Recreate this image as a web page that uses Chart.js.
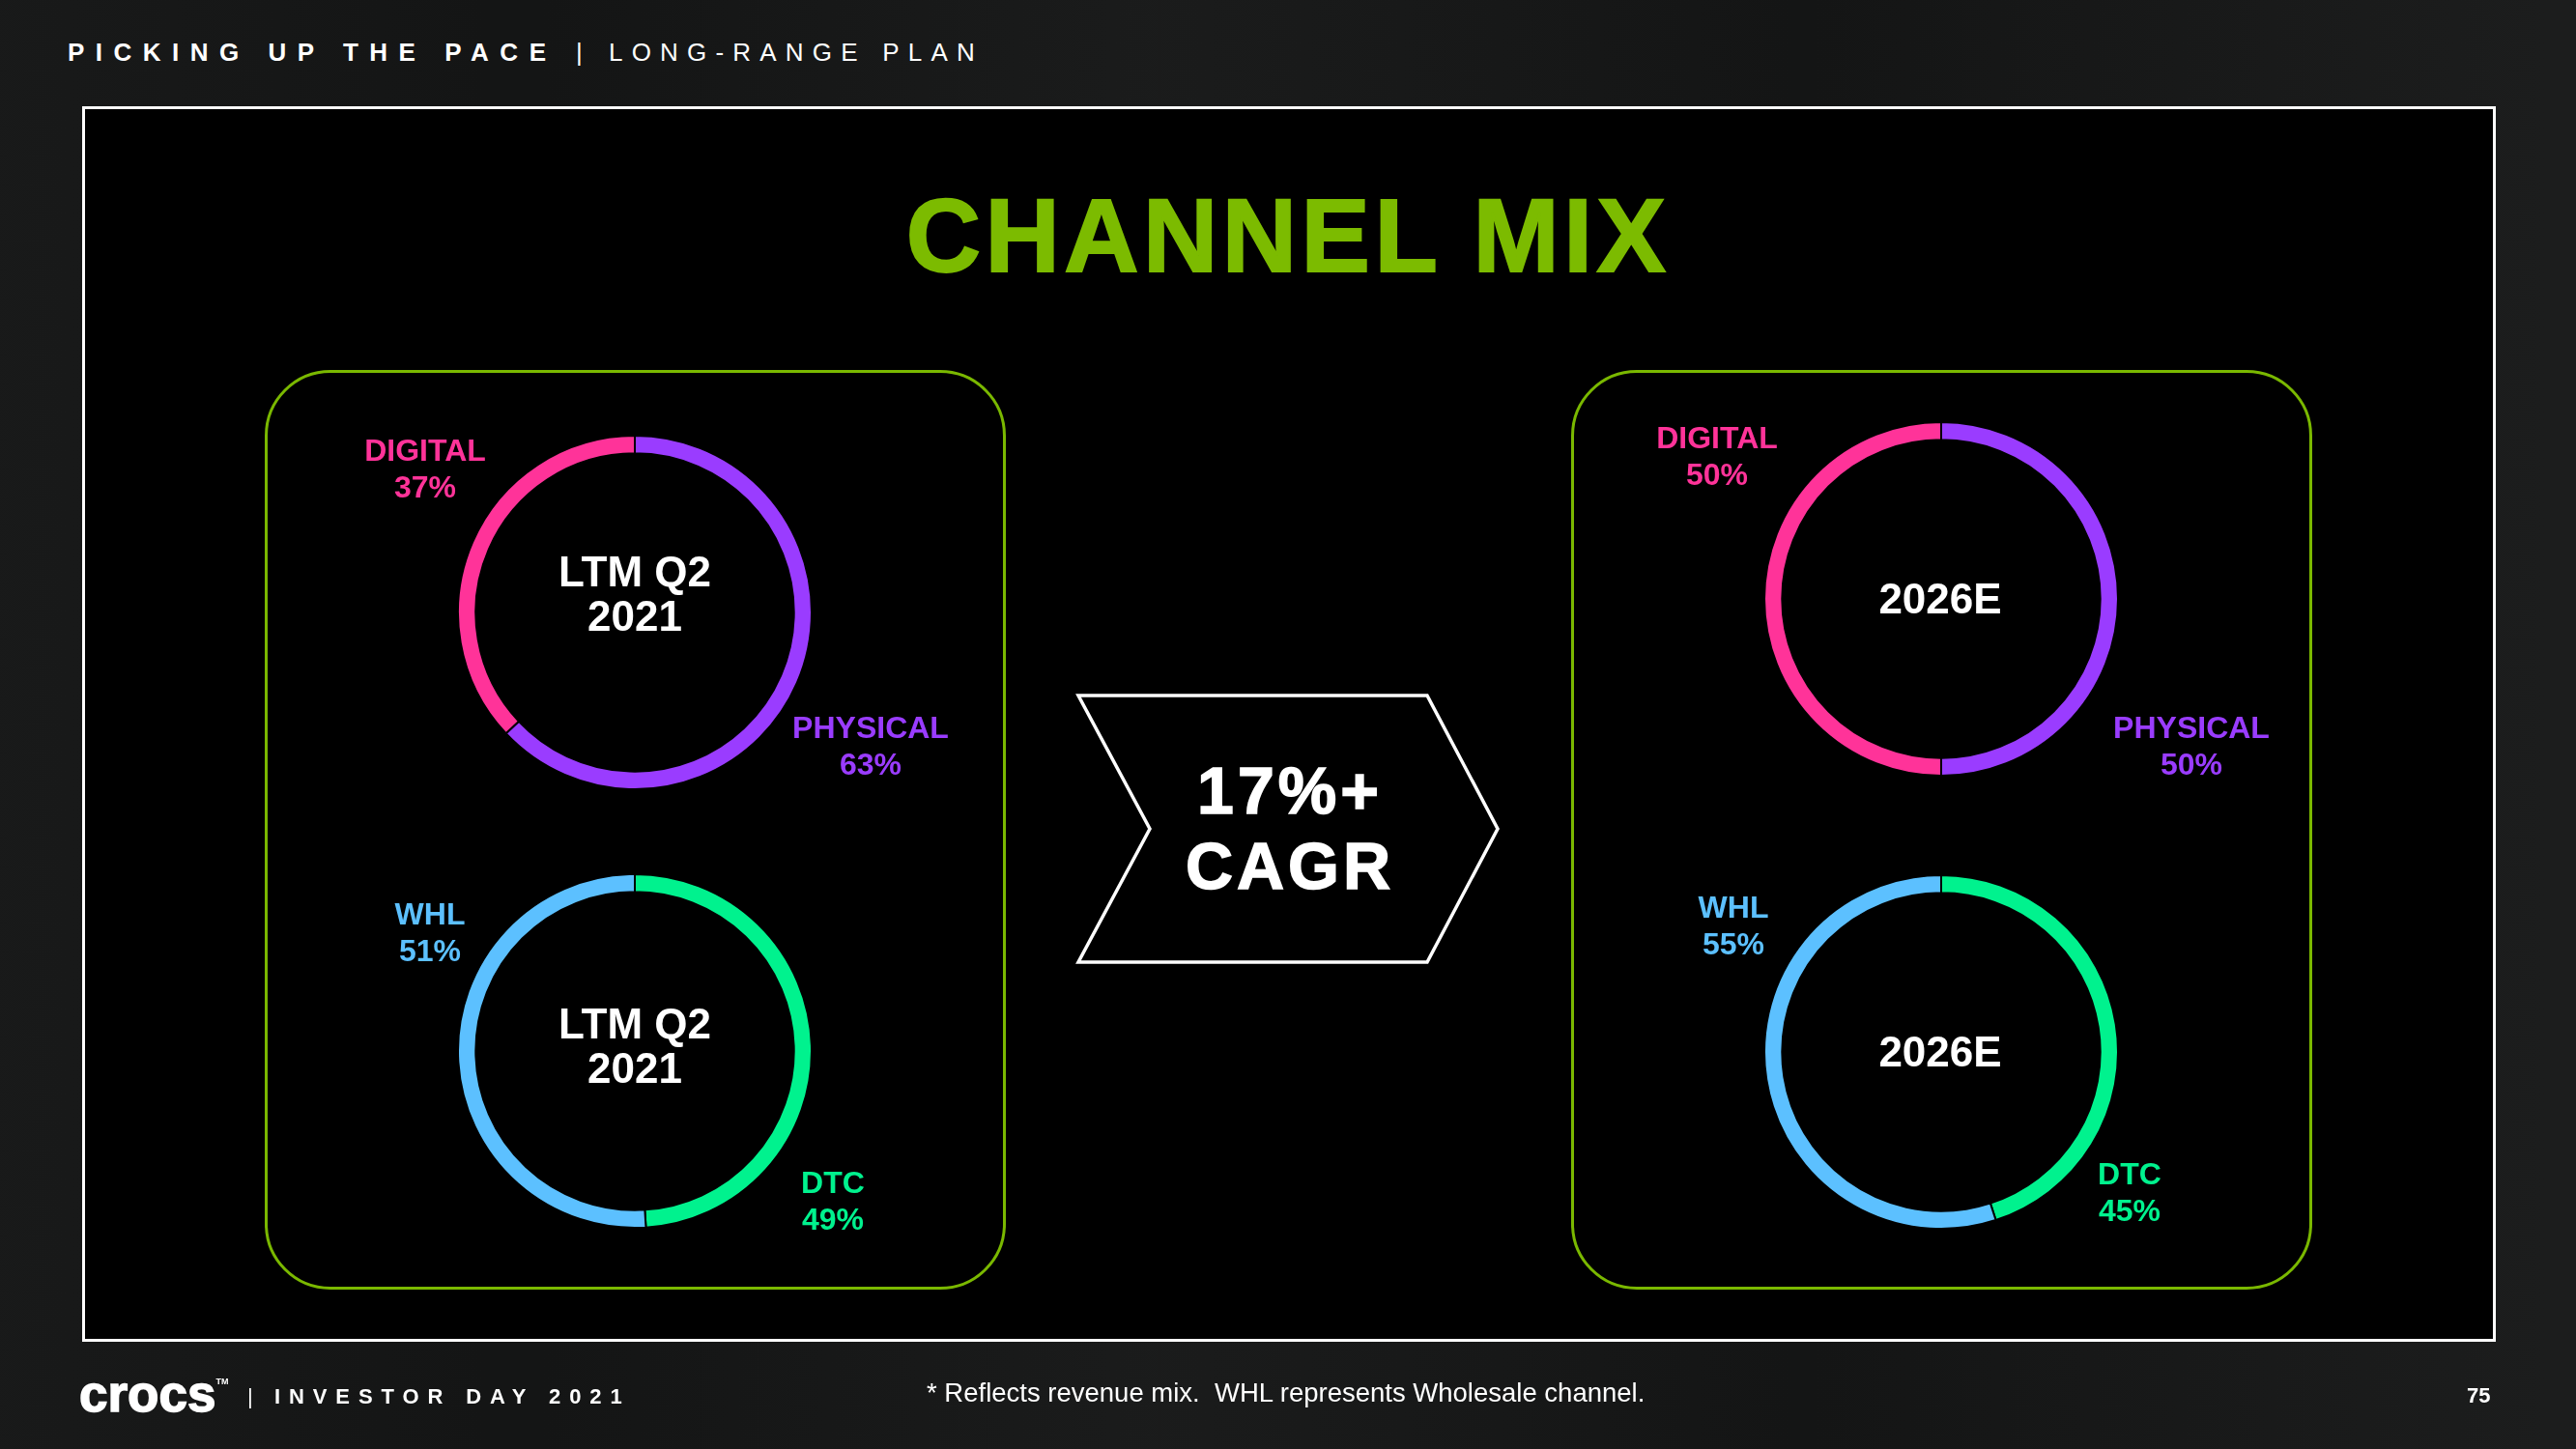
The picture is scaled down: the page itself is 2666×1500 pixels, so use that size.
<!DOCTYPE html>
<html lang="en">
<head>
    <meta charset="UTF-8">
    <title>Channel Mix</title>
    <style>
        body {
            margin: 0;
            width: 2666px;
            height: 1500px;
            position: relative;
            overflow: hidden;
            font-family: "Liberation Sans", Arial, sans-serif;
            color: white;
            background-color: #151616;
            background-image:
                linear-gradient(90deg, rgba(255,255,255,0.015) 0%, rgba(0,0,0,0.06) 20%, rgba(255,255,255,0.025) 45%, rgba(0,0,0,0.05) 70%, rgba(255,255,255,0.03) 100%);
        }
        .abs { position: absolute; }
        .header {
            top: 41px;
            font-size: 26px;
            line-height: 1;
            white-space: nowrap;
        }
        .frame {
            left: 85px;
            top: 110px;
            width: 2492px;
            height: 1273px;
            background: #000;
            border: 3px solid #ffffff;
        }
        .title {
            left: 0;
            width: 2666px;
            top: 191px;
            text-align: center;
            font-size: 107px;
            line-height: 1;
            font-weight: bold;
            letter-spacing: 4.5px;
            color: #7cbb00;
            -webkit-text-stroke: 2px #7cbb00;
        }
        .panel {
            top: 383px;
            width: 761px;
            height: 946px;
            border: 3px solid #7ab800;
            border-radius: 68px;
        }
        .donut {
            width: 368px;
            height: 368px;
        }
        .lbl {
            font-size: 32px;
            line-height: 38px;
            font-weight: bold;
            text-align: center;
            transform: translateX(-50%);
            white-space: nowrap;
        }
        .mid {
            font-size: 44px;
            line-height: 46px;
            font-weight: bold;
            text-align: center;
            transform: translateX(-50%);
            white-space: nowrap;
        }
        .cagr {
            left: 1335px;
            transform: translateX(-50%);
            font-size: 68px;
            line-height: 78px;
            font-weight: bold;
            letter-spacing: 4px;
            text-align: center;
            -webkit-text-stroke: 1.5px #fff;
        }
        .logo {
            left: 82px;
            top: 1416px;
            font-size: 53px;
            line-height: 1;
            font-weight: bold;
            -webkit-text-stroke: 1.5px #fff;
        }
        .logo sup { font-size: 9px; vertical-align: 28px; -webkit-text-stroke: 0; }
        .foot {
            top: 1435px;
            font-size: 22px;
            line-height: 1;
            white-space: nowrap;
        }
        .note {
            left: 959px;
            top: 1428px;
            font-size: 27.5px;
            line-height: 1;
            white-space: pre;
        }
        .page {
            left: 2553px;
            top: 1434px;
            font-size: 22px;
            line-height: 1;
            font-weight: bold;
        }
    </style>
    <script src="https://cdn.jsdelivr.net/npm/chart.js"></script>
</head>
<body>

    <div class="abs header" style="left: 70px; font-weight: bold; letter-spacing: 11.5px;">PICKING UP THE PACE</div>
    <div class="abs header" style="left: 596px;">|</div>
    <div class="abs header" style="left: 630px; letter-spacing: 9.2px;">LONG-RANGE PLAN</div>
    <div class="abs frame"></div>
    <div class="abs title">CHANNEL MIX</div>

    <div class="abs panel" style="left: 274px;"></div>
    <div class="abs panel" style="left: 1626px;"></div>

    <!-- donut canvases, centred on the ring centres -->
    <div class="abs donut" style="left: 473px; top: 450px;"><canvas id="ltmTopChart"></canvas></div>
    <div class="abs donut" style="left: 473px; top: 904px;"><canvas id="ltmBottomChart"></canvas></div>
    <div class="abs donut" style="left: 1825px; top: 436px;"><canvas id="estTopChart"></canvas></div>
    <div class="abs donut" style="left: 1825px; top: 905px;"><canvas id="estBottomChart"></canvas></div>

    <div id="labels"></div>

    <svg class="abs" style="left: 0; top: 0;" width="2666" height="1500">
        <polygon points="1116,720 1477,720 1550,858 1477,996 1116,996 1190,858"
                 fill="#000" stroke="#fff" stroke-width="3.5" />
    </svg>
    <div class="abs cagr" style="top: 779px;">17%+<br>CAGR</div>

    <div class="abs logo">crocs<sup>TM</sup></div>
    <div class="abs foot" style="left: 256px;">|</div>
    <div class="abs foot" style="left: 284px; font-weight: bold; letter-spacing: 8.9px;">INVESTOR DAY 2021</div>
    <div class="abs note">* Reflects revenue mix.  WHL represents Wholesale channel.</div>
    <div class="abs page">75</div>

    <script>
        // Channel mix data (%), ordered clockwise from 12 o'clock
        const storeLabels = ['PHYSICAL', 'DIGITAL'];
        const channelLabels = ['DTC', 'WHL'];
        const ltmStore = [63, 37];
        const ltmChannel = [49, 51];
        const estStore = [50, 50];
        const estChannel = [45, 55];
        const periodLabels = ['LTM Q2 2021', '2026E'];

        const storeColors = ['#9a3cff', '#ff3399'];
        const channelColors = ['#00f28e', '#5cc0ff'];

        function makeDonut(id, labels, values, colors) {
            const ctx = document.getElementById(id).getContext('2d');
            return new Chart(ctx, {
                type: 'doughnut',
                data: {
                    labels: labels,
                    datasets: [{
                        data: values,
                        backgroundColor: colors,
                        borderColor: '#000',
                        borderWidth: 2
                    }]
                },
                options: {
                    responsive: true,
                    maintainAspectRatio: false,
                    animation: false,
                    cutout: '90%',
                    layout: { padding: 0 },
                    plugins: {
                        legend: { display: false },
                        tooltip: { enabled: false }
                    }
                }
            });
        }

        makeDonut('ltmTopChart', storeLabels, ltmStore, storeColors);
        makeDonut('ltmBottomChart', channelLabels, ltmChannel, channelColors);
        makeDonut('estTopChart', storeLabels, estStore, storeColors);
        makeDonut('estBottomChart', channelLabels, estChannel, channelColors);

        // Text around the rings
        const box = document.getElementById('labels');
        function addText(cls, x, y, color, html) {
            const d = document.createElement('div');
            d.className = 'abs ' + cls;
            d.style.left = x + 'px';
            d.style.top = y + 'px';
            d.style.color = color;
            d.innerHTML = html;
            box.appendChild(d);
        }
        const pct = v => v + '%';

        addText('lbl', 440, 447, storeColors[1], storeLabels[1] + '<br>' + pct(ltmStore[1]));
        addText('lbl', 901, 734, storeColors[0], storeLabels[0] + '<br>' + pct(ltmStore[0]));
        addText('lbl', 445, 927, channelColors[1], channelLabels[1] + '<br>' + pct(ltmChannel[1]));
        addText('lbl', 862, 1205, channelColors[0], channelLabels[0] + '<br>' + pct(ltmChannel[0]));

        addText('lbl', 1777, 434, storeColors[1], storeLabels[1] + '<br>' + pct(estStore[1]));
        addText('lbl', 2268, 734, storeColors[0], storeLabels[0] + '<br>' + pct(estStore[0]));
        addText('lbl', 1794, 920, channelColors[1], channelLabels[1] + '<br>' + pct(estChannel[1]));
        addText('lbl', 2204, 1196, channelColors[0], channelLabels[0] + '<br>' + pct(estChannel[0]));

        const ltmText = periodLabels[0].replace(' 2021', '<br>2021');
        addText('mid', 657, 569, '#fff', ltmText);
        addText('mid', 657, 1037, '#fff', ltmText);
        addText('mid', 2008, 597, '#fff', periodLabels[1]);
        addText('mid', 2008, 1066, '#fff', periodLabels[1]);
    </script>

</body>
</html>
